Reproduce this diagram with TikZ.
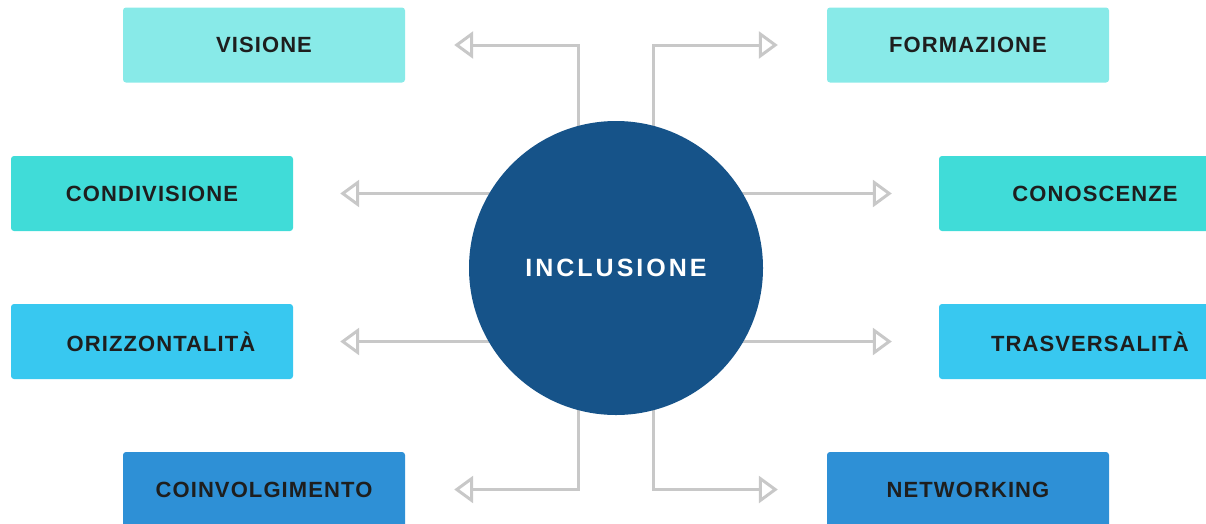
\documentclass[tikz,border=0pt]{standalone}
\usepackage{fontspec}
\setmainfont{Liberation Sans}
\newfontfamily\boxfont[LetterSpace=5]{Liberation Sans}
\newfontfamily\circfont[LetterSpace=12]{Liberation Sans}
\usetikzlibrary{arrows.meta, positioning, backgrounds}
\definecolor{pale}{HTML}{88EAE8}
\definecolor{turq}{HTML}{40DCD8}
\definecolor{sky}{HTML}{38C8F0}
\definecolor{azure}{HTML}{2E90D6}
\definecolor{navy}{HTML}{165389}
\definecolor{ink}{HTML}{1E1E1E}
\definecolor{wire}{HTML}{C8C8C8}

\begin{document}
\begin{tikzpicture}[x=1pt,y=-1pt,>={Triangle[open,length=19pt,width=27pt]},
      box/.style={rounded corners=3pt,minimum width=282pt,minimum height=75pt,
        text=ink,font=\boxfont\bfseries\fontsize{22}{26}\selectfont},
      widebox/.style={box,minimum width=302pt},
      conn/.style={->,draw=wire,line width=3pt,fill=white}]
      \useasboundingbox (0,0) rectangle (1206,523);
      \node[circle, fill=navy, minimum size=294pt, text=white,
        font=\circfont\bfseries\fontsize{25}{30}\selectfont] (incl) at (616,268) {INCLUSIONE};
      \node[box, fill=pale]  (vis)  at (264,45)    {VISIONE};
      \node[box, fill=pale]  (form) at (968,45)    {FORMAZIONE};
      \node[box, fill=turq]  (cond) at (152,193.5) {CONDIVISIONE};
      \node[widebox, fill=turq] (cono) at (1090,193.5) {\hspace*{10pt}CONOSCENZE};
      \node[box, fill=sky]   (oriz) at (152,341.5) {\hspace*{18pt}ORIZZONTALIT\`A};
      \node[widebox, fill=sky] (tras) at (1090,341.5) {TRASVERSALIT\`A};
      \node[box, fill=azure] (coin) at (264,489.5) {COINVOLGIMENTO};
      \node[box, fill=azure] (netw) at (968,489.5) {NETWORKING};
      \begin{scope}[on background layer]
        \draw[conn, shorten >=49pt] ([xshift=-38pt]incl.center) |- (vis.east);
        \draw[conn, shorten >=49pt] ([xshift=37pt]incl.center) |- (form.west);
        \draw[conn, shorten >=47pt] (incl.center |- cond.east) -- (cond.east);
        \draw[conn, shorten >=47pt] (incl.center |- cono.west) -- (cono.west);
        \draw[conn, shorten >=47pt] (incl.center |- oriz.east) -- (oriz.east);
        \draw[conn, shorten >=47pt] (incl.center |- tras.west) -- (tras.west);
        \draw[conn, shorten >=49pt] ([xshift=-38pt]incl.center) |- (coin.east);
        \draw[conn, shorten >=49pt] ([xshift=37pt]incl.center) |- (netw.west);
      \end{scope}
    \end{tikzpicture}
\end{document}
